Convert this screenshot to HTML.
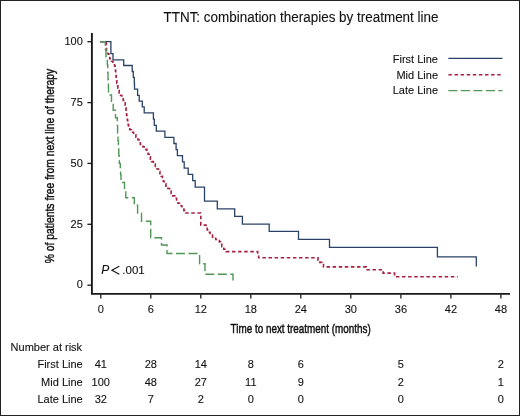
<!DOCTYPE html>
<html><head><meta charset="utf-8"><style>
html,body{margin:0;padding:0;background:#fff;}
body{width:520px;height:416px;overflow:hidden;}
svg{display:block;will-change:transform;}
text{font-family:"Liberation Sans",sans-serif;fill:#111;stroke:#111;stroke-width:0.1px;}
</style></head><body>
<svg width="520" height="416" viewBox="0 0 520 416">
<rect x="0" y="0" width="520" height="416" fill="#fff"/>
<rect x="0.5" y="0.5" width="519" height="415" fill="none" stroke="#222" stroke-width="1"/>
<text x="163.5" y="21.9" font-size="14" style="stroke-width:0.1px" textLength="275" lengthAdjust="spacingAndGlyphs">TTNT: combination therapies by treatment line</text>
<g stroke="#1a1a1a" stroke-width="1.3" fill="none"><line x1="87.4" y1="285.2" x2="91" y2="285.2"/><line x1="87.4" y1="224.3" x2="91" y2="224.3"/><line x1="87.4" y1="163.4" x2="91" y2="163.4"/><line x1="87.4" y1="102.6" x2="91" y2="102.6"/><line x1="87.4" y1="41.7" x2="91" y2="41.7"/><line x1="100.8" y1="294.5" x2="100.8" y2="298.6"/><line x1="150.8" y1="294.5" x2="150.8" y2="298.6"/><line x1="200.8" y1="294.5" x2="200.8" y2="298.6"/><line x1="250.8" y1="294.5" x2="250.8" y2="298.6"/><line x1="300.8" y1="294.5" x2="300.8" y2="298.6"/><line x1="350.8" y1="294.5" x2="350.8" y2="298.6"/><line x1="400.9" y1="294.5" x2="400.9" y2="298.6"/><line x1="450.9" y1="294.5" x2="450.9" y2="298.6"/><line x1="500.9" y1="294.5" x2="500.9" y2="298.6"/></g>
<path d="M91.9,33 V293.9 H510" stroke="#1a1a1a" stroke-width="1.9" fill="none"/>
<g font-size="11"><text x="82.8" y="288.4" text-anchor="end">0</text><text x="82.8" y="227.5" text-anchor="end">25</text><text x="82.8" y="166.6" text-anchor="end">50</text><text x="82.8" y="105.8" text-anchor="end">75</text><text x="82.8" y="44.9" text-anchor="end">100</text><text x="100.8" y="312.9" text-anchor="middle">0</text><text x="150.8" y="312.9" text-anchor="middle">6</text><text x="200.8" y="312.9" text-anchor="middle">12</text><text x="250.8" y="312.9" text-anchor="middle">18</text><text x="300.8" y="312.9" text-anchor="middle">24</text><text x="350.8" y="312.9" text-anchor="middle">30</text><text x="400.9" y="312.9" text-anchor="middle">36</text><text x="450.9" y="312.9" text-anchor="middle">42</text><text x="500.9" y="312.9" text-anchor="middle">48</text></g>
<text x="230.6" y="332.8" font-size="13.5" style="stroke-width:0.5px" textLength="140.2" lengthAdjust="spacingAndGlyphs">Time to next treatment (months)</text>
<text transform="translate(53.6,263.3) rotate(-90)" x="0" y="0" font-size="13.2" style="stroke-width:0.45px" textLength="194.5" lengthAdjust="spacingAndGlyphs">% of patients free from next line of therapy</text>
<g fill="none" stroke-width="1.4">
<path d="M100.3,41.7 H110.9 V53.7 H113 V59.8 H123.7 V65.5 H132.2 V71.5 H133.3 V77.3 H134.3 V83.3 H134.5 V89.2 H137.6 V95.3 H139.2 V101.1 H142.3 V106.9 H144.2 V112.8 H153.4 V119.2 H154.3 V125.3 H156.3 V131.1 H164.9 V137.4 H173.9 V143.5 H176.1 V149.6 H177.4 V155.7 H182.5 V161.8 H184.2 V168.1 H188.2 V174.3 H192.7 V180.7 H195.2 V187.2 H204.5 V194.2 V201.1 H217.3 V208.8 H234.7 V216.4 H242.4 V224.2 H269.2 V231.4 H298.5 V239.4 H329.5 V247.4 H437.4 V256.9 H476.3 V266.6" stroke="#2a4266" stroke-width="1.3"/>
<path d="M100.3,41.7 H106.0 H106.2 V44.1 H106.3 V46.6 H106.4 V49.0 H106.5 V51.5 H107.9 V53.9 H108.8 V56.4 H109.7 V58.8 H111.3 V61.3 H112.9 V63.7 H114.6 V66.2 H115.2 V68.6 H115.5 V71.1 H115.7 V73.5 H116.0 V76.0 H116.2 V78.4 H116.5 V80.9 H116.9 V83.3 H117.4 V85.7 H117.9 V88.2 H118.5 V90.6 H119.2 V93.1 H120.6 V95.5 H121.9 V98.0 H123.2 V100.4 H124.4 V102.9 H125.2 V105.3 H125.6 V107.8 H126.0 V110.2 H126.3 V112.7 H126.6 V115.1 H126.9 V117.6 H127.3 V120.0 H127.7 V122.5 H128.2 V124.9 H128.6 V127.4 H129.8 V129.8 H131.5 V132.2 H133.6 V134.7 H135.9 V137.1 H137.9 V139.6 H139.0 V142.0 H140.3 V144.5 H143.0 V146.9 H145.7 V149.4 H146.9 V151.8 H148.1 V154.3 H149.2 V156.7 H150.4 V159.2 H151.6 V161.6 H153.4 V164.1 H155.3 V166.5 H157.1 V169.0 H158.5 V171.4 H159.9 V173.8 H161.2 V176.3 H162.4 V178.7 H163.3 V181.2 H164.2 V183.6 H165.9 V186.1 H167.9 V188.5 H169.6 V191.0 H171.1 V193.4 H172.7 V195.9 H174.8 V198.3 H176.6 V200.8 H178.0 V203.2 H179.5 V205.7 H181.9 V208.1 H183.9 V210.6 H184.6 V213.0 H200.8 H200.8 V215.4 H200.8 V217.8 H200.8 V220.2 H200.8 V222.7 H200.8 V225.1 H206.0 V227.5 H207.2 V229.9 H208.4 V232.3 H210.1 V234.7 H212.5 V237.1 H215.7 V239.5 H219.4 V241.9 H220.6 V244.4 H221.8 V246.8 H223.8 V249.2 H226.2 V251.6 H257.7 V254.6 H258.6 V257.8 H316.2 H318.0 V260.1 H319.9 V262.4 H321.7 V264.6 H323.5 V266.9 H366.2 V269.7 H383.1 V273.1 H394.6 V276.8 H457.7" stroke="#a8203f" stroke-dasharray="3.5 2.6" stroke-width="1.6"/>
<path d="M100.3,41.7 H104.7 H105.3 V49.3 H106.0 V56.9 H107.3 V64.5 H107.7 V72.2 H108.0 V79.8 H108.4 V87.4 H108.5 V95.0 H111.5 V102.6 H113.2 V110.2 H115.5 V117.8 H117.3 V125.4 H117.6 V133.0 H118.0 V140.6 H118.4 V148.2 H118.8 V155.8 H119.3 V163.4 H120.3 V171.0 H120.6 V174.7 H121.0 V182.5 H124.5 V190.5 H125.8 V197.7 H134.3 V205.3 H137.6 V213.3 H141.5 V221.2 H150.7 V229.4 H150.7 V237.7 H161.5 V245.0 H167.0 V253.5 H199.6 V263.8 H205.0 V274.2 H233.0 V281.5" stroke="#4f9657" stroke-dasharray="9 3.5"/>
</g>
<g font-size="11">
<text x="438" y="63" text-anchor="end">First Line</text>
<text x="438" y="78.7" text-anchor="end">Mid Line</text>
<text x="438" y="94.2" text-anchor="end">Late Line</text>
</g>
<g fill="none" stroke-width="1.4">
<line x1="448.4" y1="58.3" x2="502.5" y2="58.3" stroke="#2a4266" stroke-width="1.3"/>
<line x1="448.4" y1="74.8" x2="502.5" y2="74.8" stroke="#a8203f" stroke-dasharray="3.5 2.6" stroke-width="1.6"/>
<line x1="448.4" y1="90.6" x2="502.5" y2="90.6" stroke="#4f9657" stroke-dasharray="9 3.5"/>
</g>
<text x="101.2" y="274.3" font-size="12" font-style="italic">P</text><path d="M119.3,266.3 L111.9,270.3 L119.3,274.3" fill="none" stroke="#111" stroke-width="1.1"/><text x="122.3" y="274.4" font-size="11.5">.001</text>
<g font-size="11">
<text x="10.6" y="351">Number at risk</text>
<text x="82.7" y="368.3" text-anchor="end">First Line</text><text x="100.8" y="368.3" text-anchor="middle">41</text><text x="150.8" y="368.3" text-anchor="middle">28</text><text x="200.8" y="368.3" text-anchor="middle">14</text><text x="250.8" y="368.3" text-anchor="middle">8</text><text x="300.8" y="368.3" text-anchor="middle">6</text><text x="400.9" y="368.3" text-anchor="middle">5</text><text x="500.9" y="368.3" text-anchor="middle">2</text><text x="82.7" y="385.6" text-anchor="end">Mid Line</text><text x="100.8" y="385.6" text-anchor="middle">100</text><text x="150.8" y="385.6" text-anchor="middle">48</text><text x="200.8" y="385.6" text-anchor="middle">27</text><text x="250.8" y="385.6" text-anchor="middle">11</text><text x="300.8" y="385.6" text-anchor="middle">9</text><text x="400.9" y="385.6" text-anchor="middle">2</text><text x="500.9" y="385.6" text-anchor="middle">1</text><text x="82.7" y="402.9" text-anchor="end">Late Line</text><text x="100.8" y="402.9" text-anchor="middle">32</text><text x="150.8" y="402.9" text-anchor="middle">7</text><text x="200.8" y="402.9" text-anchor="middle">2</text><text x="250.8" y="402.9" text-anchor="middle">0</text><text x="300.8" y="402.9" text-anchor="middle">0</text><text x="400.9" y="402.9" text-anchor="middle">0</text><text x="500.9" y="402.9" text-anchor="middle">0</text>
</g>
</svg>
</body></html>
